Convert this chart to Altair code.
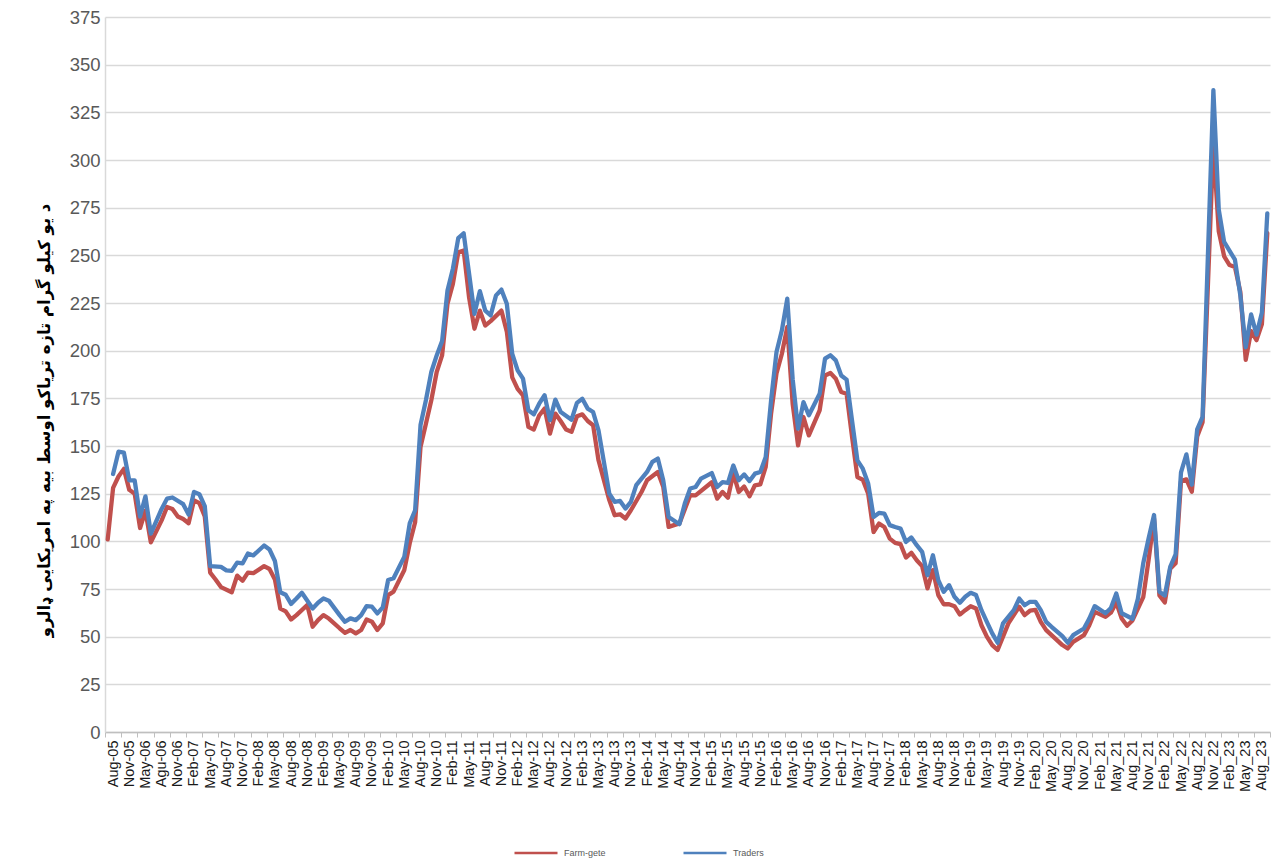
import json
import altair as alt
import pandas as pd

# x tick labels (one per 3 monthly categories)
tick_labels = ["Aug-05","Nov-05","May-06","Agu-06","Nov-06","Feb-07","May-07","Aug-07","Nov-07",
               "Feb-08","May-08","Aug-08","Nov-08","Feb-09","May-09","Aug-09","Nov-09",
               "Feb-10","May-10","Aug-10","Nov-10","Feb-11","May-11","Aug-11","Nov-11",
               "Feb-12","May-12","Aug-12","Nov-12","Feb-13","May-13","Aug-13","Nov-13",
               "Feb-14","May-14","Aug-14","Nov-14","Feb-15","May-15","Aug-15","Nov-15",
               "Feb-16","May-16","Aug-16","Nov-16","Feb-17","May-17","Aug-17","Nov-17",
               "Feb-18","May-18","Aug-18","Nov-18","Feb-19","May-19","Aug-19","Nov-19",
               "Feb_20","May_20","Aug_20","Nov_20","Feb_21","May_21","Aug_21","Nov_21",
               "Feb_22","May_22","Aug_22","Nov_22","Feb_23","May_23","Aug_23"]
n_categories = 216

# Farm-gate series: month index (category) and price
farm_month = [0,1,2,3,4,5,6,7,8,10,11,12,13,14,15,16,17,18,19,20,21,23,24,25,26,27,29,30,31,32,33,34,35,37,38,39,40,41,43,44,45,46,47,48,49,50,51,52,53,55,56,57,58,59,60,61,62,63,64,65,66,67,68,69,70,71,73,74,75,76,77,78,79,80,81,82,83,84,85,86,87,88,89,90,91,93,94,95,96,97,99,100,102,103,104,105,106,108,109,112,113,114,115,116,117,118,119,120,121,122,123,124,125,126,127,128,129,130,132,133,134,135,136,137,138,139,140,141,142,143,144,145,146,147,148,149,150,151,152,153,154,155,156,157,158,159,160,161,162,163,164,165,166,167,169,170,171,172,173,174,175,177,178,179,181,182,183,185,186,187,188,189,190,192,193,194,195,196,197,198,199,200,201,202,203,205,206,207,208,209,210,211,212,213,214,215]
farm_value = [101,128,134,138,127,125,107,116,99.5,111,118,117,113,111.7,109.5,121.5,120,113,83.6,80,76,73.3,82,79.3,83.6,83.3,87,85.5,80,64.7,63.3,59,61.3,66.6,55.2,58.7,61.3,59.5,54.4,52,53.5,51.7,53.5,59,57.8,53.5,57,71.8,73.6,85,99,110,149.5,161.7,174,188.8,197.5,224.6,235,251.6,252.5,228,211.5,221,213.2,215.5,221,210,186,180,176.6,160,158.6,166,169.6,156.5,167,163,158.6,157.4,165.6,166.6,163.1,160.9,142.5,121.6,113.7,114.2,112,116.3,126,132,136.4,128.6,107.6,108.5,109.4,124.2,124.1,131,122.4,125.9,122.9,135.5,125.9,128.8,123.6,129.4,129.9,139,167,188,198.4,212.4,172,150.3,165.2,155.6,168.7,187,188.3,185.3,178.3,177.4,155,133.7,132.3,125,104.9,109.3,107.5,101.4,99.2,98.5,91.5,94,90.1,87,75.3,84.9,71.8,67,67,66,61.6,63.9,66,64.8,56,50,45.6,43,50,57,65.7,61.3,63.6,64,57.8,53.4,50.8,45.6,43.8,47.3,50.8,56,63,60.4,62.6,67.9,59.5,55.7,58.5,70.7,90.4,111.9,71.6,67.9,85.7,88.5,131.6,132.5,126,155,162.5,308,262.6,249.5,244.9,243.9,230.8,195.2,210.2,205.5,214,261.7]

# Traders series
trader_month = [1,2,3,4,5,6,7,8,10,11,12,14,15,16,17,18,19,21,22,23,24,25,26,27,29,30,31,32,33,34,35,36,38,39,40,41,43,44,45,46,47,48,49,50,51,52,53,55,56,57,58,59,60,61,62,63,64,65,66,68,69,70,71,72,73,74,75,76,77,78,79,80,81,82,83,84,86,87,88,89,90,91,93,94,95,96,97,98,100,101,102,103,104,106,107,108,109,110,112,113,114,115,116,117,118,119,120,121,122,123,124,125,126,127,128,129,130,132,133,134,135,136,137,138,139,140,141,142,143,144,145,146,147,148,149,150,151,152,153,154,155,156,157,158,159,160,161,162,163,164,165,166,168,169,170,171,172,173,174,175,177,178,179,181,182,183,185,186,187,188,190,191,192,193,194,195,196,197,198,199,200,201,202,203,205,206,207,209,210,211,212,213,214,215]
trader_value = [135.3,147,146.5,132,132,113,123.6,104,117,122.4,123,119.5,114,125.9,124.7,118.5,87,86.6,84.8,84.5,88.8,88.4,93.6,92.6,97.8,95.7,89.7,73.3,72,67.2,70,73,64.8,67.8,70,68.9,61.3,57.8,59.6,58.7,61.3,66,65.7,62.2,65.4,79.7,80.6,92,109.4,116.3,161,174,188.8,197.5,205,231.6,243,259,261.6,219.3,231.2,221,218.5,229,232,224.6,198.4,189.7,185.3,168.7,166.6,172.2,176.6,163.5,174.3,167.8,163.8,172.6,174.8,169.6,167.8,158.2,125,120.7,121.2,117.2,120.7,129.5,136.4,141.7,143.4,132,112.8,109,119.8,127.7,128.5,132.9,135.8,128.5,131,130.6,139.8,132,135.1,131.6,135.5,136.4,144.2,174,199.3,210.7,227.3,185,159.1,173,166.1,177.4,195.8,197.6,194.9,187,184.8,163.5,142.5,138.1,130.3,112.8,114.9,114.5,108.5,107.5,106.7,99.7,102,98,94.5,82.2,92.7,79.6,73.5,77,70.9,67.8,70.9,73,71.8,63.9,57.8,51.7,46.8,57,63.9,70,66.5,68.3,68.3,63.9,57.8,55.2,50.3,46.8,50.8,54.3,59.5,66,62.3,65,72.6,62.3,59.4,69.8,88.5,101.6,113.8,73.6,71.6,86.6,93.2,136.2,145.6,129.7,158.7,165.3,336.6,274,257,247.7,229,201.8,219,208.4,220,272]

series_names = ["Farm-gete", "Traders"]
series_colors = ["#C0504D", "#4F81BD"]
y_title = "د یو کیلو گرام تازه تریاکو اوسط بیه په امریکایی ډالرو"
y_ticks = list(range(0, 376, 25))

df = pd.concat([
    pd.DataFrame({"m": farm_month, "v": farm_value, "s": series_names[0]}),
    pd.DataFrame({"m": trader_month, "v": trader_value, "s": series_names[1]}),
], ignore_index=True)

tick_pos = [3 * k - 0.5 for k in range(len(tick_labels) + 1)]
label_expr = "(" + json.dumps(tick_labels) + ")[floor((datum.value + 0.5) / 3)] || ''"

W, H = 1165, 715
cat_w = W / n_categories

chart = alt.Chart(df).mark_line(strokeWidth=4.3, strokeJoin="round", strokeCap="round").encode(
    x=alt.X("m:Q",
            scale=alt.Scale(domain=[-0.5, n_categories - 0.5], nice=False, zero=False),
            axis=alt.Axis(values=tick_pos, labelExpr=label_expr, labelAngle=270,
                          labelOffset=1.5 * cat_w, labelAlign="right", labelBaseline="middle",
                          tickSize=5, tickColor="#BFBFBF", domainColor="#BFBFBF", domainWidth=1.5,
                          grid=False, labelFont="Liberation Sans", labelFontSize=14.5,
                          labelColor="#1a1a1a", labelPadding=3, labelOverlap=False,
                          labelBound=False, labelFlush=False, title=None)),
    y=alt.Y("v:Q",
            scale=alt.Scale(domain=[0, 375], nice=False),
            axis=alt.Axis(values=y_ticks, tickSize=0, grid=True, gridColor="#D9D9D9", gridWidth=1.5,
                          domainColor="#D9D9D9", domainWidth=1.5, labelFont="Liberation Sans",
                          labelFontSize=18.5, labelColor="#595959", labelPadding=5,
                          title=y_title, titleFont="DejaVu Sans", titleFontWeight="bold",
                          titleFontSize=16.5, titleColor="#000000", titleAngle=270,
                          titleX=-61, titleY=403, titleAlign="center", titleBaseline="middle")),
    color=alt.Color("s:N", scale=alt.Scale(domain=series_names, range=series_colors),
                    legend=alt.Legend(orient="none", legendX=408, legendY=813, direction="horizontal",
                                      title=None, symbolType="stroke", symbolSize=1849,
                                      symbolStrokeWidth=2.5, labelFont="Liberation Sans",
                                      labelFontSize=9, labelColor="#595959", columnPadding=72,
                                      labelOffset=5)),
).properties(
    width=W, height=H,
    autosize=alt.AutoSizeParams(type="none"),
    padding={"left": 97, "top": 9, "right": 5, "bottom": 127},
).configure_view(stroke=None)

chart.save("out.html", embed_options={"renderer": "svg", "actions": False})
